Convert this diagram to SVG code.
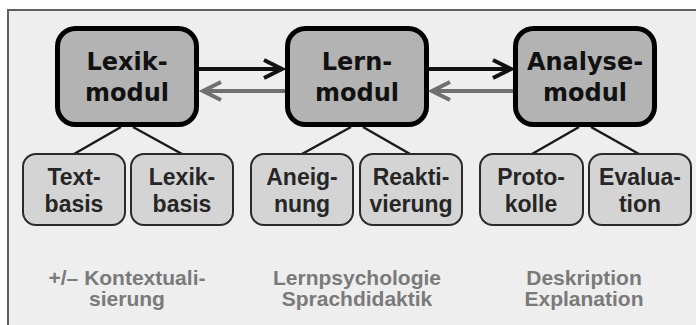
<svg xmlns="http://www.w3.org/2000/svg" width="696" height="325" viewBox="0 0 696 325">
<defs>
<style>
.main rect{fill:#b3b3b3;stroke:#000;stroke-width:5}
.main text{font-family:"DejaVu Sans",Verdana,sans-serif;font-weight:bold;font-size:24px;fill:#111;text-anchor:middle}
.sub rect{fill:#d4d4d4;stroke:#2a2a2a;stroke-width:2}
.sub text{font-family:"Liberation Sans",Arial,sans-serif;font-weight:bold;font-size:23px;fill:#262626;text-anchor:middle}
.note text{font-family:"Liberation Sans",Arial,sans-serif;font-weight:bold;font-size:21px;fill:#7a7a7a;text-anchor:middle}
.tree{stroke:#1a1a1a;stroke-width:2.5;fill:none}
.fwd{stroke:#111;stroke-width:4;fill:none}
.back{stroke:#707070;stroke-width:4;fill:none}
</style>
<marker id="hf" markerUnits="userSpaceOnUse" viewBox="0 0 24 24" markerWidth="24" markerHeight="24" refX="20" refY="12" orient="auto">
<path d="M2,3 L20,12 L2,21" fill="none" stroke="#111" stroke-width="4" stroke-linejoin="miter"/>
</marker>
<marker id="hb" markerUnits="userSpaceOnUse" viewBox="0 0 24 24" markerWidth="24" markerHeight="24" refX="20" refY="12" orient="auto">
<path d="M2,3 L20,12 L2,21" fill="none" stroke="#707070" stroke-width="4" stroke-linejoin="miter"/>
</marker>
</defs>
<rect x="0" y="0" width="696" height="325" fill="#ffffff"/>
<rect x="8" y="10" width="700" height="330" fill="#eeeeee" stroke="#606060" stroke-width="2"/>

<g id="connectors">
<path class="fwd" d="M199,69 H282" marker-end="url(#hf)"/>
<path class="back" d="M285,91 H203" marker-end="url(#hb)"/>
<path class="fwd" d="M429,69 H511" marker-end="url(#hf)"/>
<path class="back" d="M513,91 H432" marker-end="url(#hb)"/>
<path class="tree" d="M121,127 L74,154 M133,127 L182,154"/>
<path class="tree" d="M351,127 L302,154 M363,127 L410,154"/>
<path class="tree" d="M579,127 L532,154 M591,127 L639,154"/>
</g>

<g id="lexikmodul" class="main">
<rect x="57.5" y="28.5" width="139" height="96" rx="18"/>
<text x="127" y="70">Lexik-</text>
<text x="127" y="101">modul</text>
</g>
<g id="lernmodul" class="main">
<rect x="287.5" y="28.5" width="139" height="96" rx="18"/>
<text x="357" y="70">Lern-</text>
<text x="357" y="101">modul</text>
</g>
<g id="analysemodul" class="main">
<rect x="515.5" y="28.5" width="139" height="96" rx="18"/>
<text x="585" y="70">Analyse-</text>
<text x="585" y="101">modul</text>
</g>

<g id="textbasis" class="sub">
<rect x="23" y="154" width="102" height="71" rx="13"/>
<text x="74" y="185">Text-</text>
<text x="74" y="212">basis</text>
</g>
<g id="lexikbasis" class="sub">
<rect x="131" y="154" width="102" height="71" rx="13"/>
<text x="182" y="185">Lexik-</text>
<text x="182" y="212">basis</text>
</g>
<g id="aneignung" class="sub">
<rect x="251" y="154" width="102" height="71" rx="13"/>
<text x="302" y="185">Aneig-</text>
<text x="302" y="212">nung</text>
</g>
<g id="reaktivierung" class="sub">
<rect x="360" y="154" width="102" height="71" rx="13"/>
<text x="411" y="185">Reakti-</text>
<text x="411" y="212">vierung</text>
</g>
<g id="protokolle" class="sub">
<rect x="480" y="154" width="103" height="71" rx="13"/>
<text x="531" y="185">Proto-</text>
<text x="531" y="212">kolle</text>
</g>
<g id="evaluation" class="sub">
<rect x="589" y="154" width="102" height="71" rx="13"/>
<text x="640" y="185">Evalua-</text>
<text x="640" y="212">tion</text>
</g>

<g id="note-lexik" class="note">
<text x="127" y="285">+/– Kontextuali-</text>
<text x="127" y="306">sierung</text>
</g>
<g id="note-lern" class="note">
<text x="357" y="285">Lernpsychologie</text>
<text x="357" y="306">Sprachdidaktik</text>
</g>
<g id="note-analyse" class="note">
<text x="584" y="285">Deskription</text>
<text x="584" y="306">Explanation</text>
</g>
</svg>
